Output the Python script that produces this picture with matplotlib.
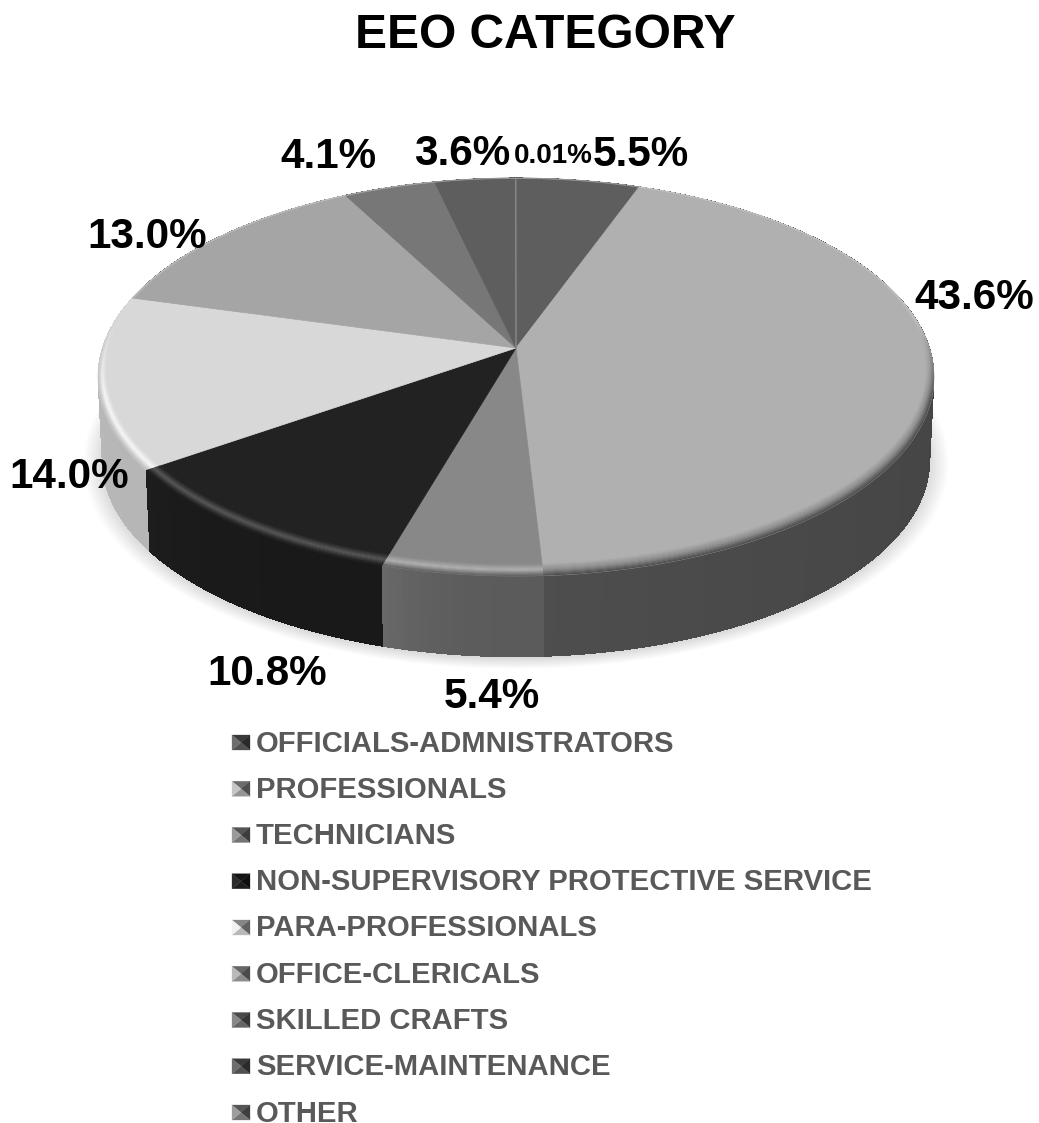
"""Gray 3D-looking pie of EEO categories, drawn with a perspective projection."""

import matplotlib

matplotlib.use("Agg")
from matplotlib.collections import PolyCollection
import matplotlib.pyplot as plt
import numpy as np

categories = [
    "OFFICIALS-ADMNISTRATORS",
    "PROFESSIONALS",
    "TECHNICIANS",
    "NON-SUPERVISORY PROTECTIVE SERVICE",
    "PARA-PROFESSIONALS",
    "OFFICE-CLERICALS",
    "SKILLED CRAFTS",
    "SERVICE-MAINTENANCE",
    "OTHER",
]
shares = [5.5, 43.6, 5.4, 10.8, 14.0, 13.0, 4.1, 3.6, 0.01]
share_labels = ["5.5%", "43.6%", "5.4%", "10.8%", "14.0%", "13.0%", "4.1%", "3.6%", "0.01%"]

top_colors = ["#5e5e5e", "#b0b0b0", "#888888", "#222222", "#d8d8d8", "#a5a5a5", "#777777", "#5e5e5e", "#8a8a8a"]
rim_colors = ["#8a8a8a", "#8c8c8c", "#b4b4b4", "#5c5c5c", "#fafafa", "#c8c8c8", "#a0a0a0", "#8a8a8a", "#aaaaaa"]
wall_colors = ["#404040", "#464646", "#5e5e5e", "#1a1a1a", "#bcbcbc", "#707070", "#505050", "#404040", "#555555"]
label_xy = [(641, 155), (974, 298), (492, 697), (267, 674), (69, 477), (147, 237), (328, 157), (462, 154), (553, 156)]
label_sizes = [30.4, 30.4, 30.4, 30.4, 30.4, 30.4, 30.4, 30.4, 20]

# pixel geometry of the pie: apex, perspective and extrusion
CX, CY = 516, 348
K, A, C = 0.1457, 194.8, 413.5
DEPTH, LOWER_SCALE = 83, 0.99


def project(u, v, scale=1.0, drop=0.0):
    w = 1 + K * v
    return CX + scale * C * u / w, CY - scale * A * v / w + drop


def rgb(color):
    return np.array(matplotlib.colors.to_rgb(color))


def blend(a, b, t):
    return a + (b - a) * t


def bevel_width(theta):
    return 0.006 + 0.04 * np.clip((0.3 - np.cos(theta)) / 1.3, 0, 1)


def draw_shadow(ax):
    theta = np.linspace(0, 2 * np.pi, 361)
    for grow in np.linspace(1.045, 1.0, 12):
        x, y = project(np.sin(theta), np.cos(theta), LOWER_SCALE * grow, DEPTH + 2)
        ax.fill(x, y, color="black", alpha=0.012, lw=0, zorder=1)


def draw_walls(ax, edges):
    quads, faces, order = [], [], []
    for i, (a, b) in enumerate(zip(edges[:-1], edges[1:])):
        steps = np.linspace(a, b, max(int((b - a) * 90), 2))
        for j, (t0, t1) in enumerate(zip(steps[:-1], steps[1:])):
            x0, y0 = project(np.sin(t0), np.cos(t0))
            x1, y1 = project(np.sin(t1), np.cos(t1))
            x2, y2 = project(np.sin(t1), np.cos(t1), LOWER_SCALE, DEPTH)
            x3, y3 = project(np.sin(t0), np.cos(t0), LOWER_SCALE, DEPTH)
            quads.append([(x0, y0), (x1, y1), (x2, y2), (x3, y3)])
            frac = j / max(len(steps) - 2, 1)
            faces.append(np.clip(rgb(wall_colors[i]) * (0.97 + 0.14 * frac**3), 0, 1))
            order.append(-np.cos(t0))
    idx = np.argsort(order)
    ax.add_collection(
        PolyCollection(
            [quads[k] for k in idx],
            facecolors=[faces[k] for k in idx],
            edgecolors="none",
            antialiased=False,
            zorder=2,
        )
    )


def draw_top(ax, edges):
    for i, (a, b) in enumerate(zip(edges[:-1], edges[1:])):
        steps = np.linspace(a, b, max(int((b - a) * 90), 2))
        x, y = project(np.sin(steps), np.cos(steps))
        ax.fill(
            np.r_[CX, x],
            np.r_[CY, y],
            facecolor=top_colors[i],
            edgecolor=top_colors[i],
            lw=0.5,
            zorder=3,
        )


def draw_bevel(ax, edges):
    quads, faces = [], []
    bands = np.linspace(0, 1, 13)
    for i, (a, b) in enumerate(zip(edges[:-1], edges[1:])):
        top, rim, wall = rgb(top_colors[i]), rgb(rim_colors[i]), rgb(wall_colors[i])
        steps = np.linspace(a, b, max(int((b - a) * 90), 2))
        for t0, t1 in zip(steps[:-1], steps[1:]):
            front = np.clip((0.15 - np.cos(t0)) / 0.4, 0, 1)
            for s0, s1 in zip(bands[:-1], bands[1:]):
                r00, r01 = 1 - bevel_width(t0) * (1 - s0), 1 - bevel_width(t1) * (1 - s0)
                r10, r11 = 1 - bevel_width(t0) * (1 - s1), 1 - bevel_width(t1) * (1 - s1)
                quads.append(
                    [
                        project(r00 * np.sin(t0), r00 * np.cos(t0)),
                        project(r01 * np.sin(t1), r01 * np.cos(t1)),
                        project(r11 * np.sin(t1), r11 * np.cos(t1)),
                        project(r10 * np.sin(t0), r10 * np.cos(t0)),
                    ]
                )
                s = (s0 + s1) / 2
                shade = blend(top, rim, s * 2) if s < 0.5 else blend(rim, wall, (s - 0.5) * 2)
                back = blend(top, np.array([0.85, 0.85, 0.85]), s * 0.5)
                faces.append(blend(back, shade, front))
    ax.add_collection(PolyCollection(quads, facecolors=faces, edgecolors="face", linewidths=0.2, zorder=4))


def draw_legend(ax):
    rows = 740.5 + 46.25 * np.arange(len(categories))
    half_w, half_h = 9, 7.5
    for name, color, y in zip(categories, top_colors, rows):
        base = rgb(color)
        my = y + 2
        x0, x1, xm = 232, 232 + 2 * half_w, 232 + half_w
        y0, y1 = my - half_h, my + half_h
        shades = [
            ([(x0, y0), (x1, y0), (xm, my)], base * 0.62),
            ([(x1, y0), (x1, y1), (xm, my)], base * 0.45),
            ([(x0, y1), (x1, y1), (xm, my)], base * 0.85),
            ([(x0, y0), (x0, y1), (xm, my)], np.clip(base * 1.08 + 0.03, 0, 1)),
        ]
        for pts, face in shades:
            ax.fill(*zip(*pts), facecolor=face, edgecolor=face, lw=0.2, zorder=5)
        ax.text(256, y, name, ha="left", va="center_baseline", fontsize=21.1, fontweight="bold", color="#595959")


def main():
    plt.rcParams["font.family"] = ["Liberation Sans", "DejaVu Sans"]
    fig = plt.figure(figsize=(10.39, 11.23), dpi=100, facecolor="white")
    ax = fig.add_axes([0, 0, 1, 1])
    ax.set_xlim(0, 1039)
    ax.set_ylim(1123, 0)
    ax.axis("off")

    edges = np.r_[0, np.cumsum(shares)] / sum(shares) * 2 * np.pi
    draw_shadow(ax)
    draw_walls(ax, edges)
    draw_top(ax, edges)
    draw_bevel(ax, edges)

    for text, (x, y), size in zip(share_labels, label_xy, label_sizes):
        ax.text(x, y, text, ha="center", va="center", fontsize=size, fontweight="bold", color="black", zorder=6)

    ax.text(545, 36, "EEO CATEGORY", ha="center", va="center", fontsize=34.5, fontweight="bold", color="black")
    draw_legend(ax)

    fig.savefig("out.png", dpi=100)
    plt.close(fig)


if __name__ == "__main__":
    main()
